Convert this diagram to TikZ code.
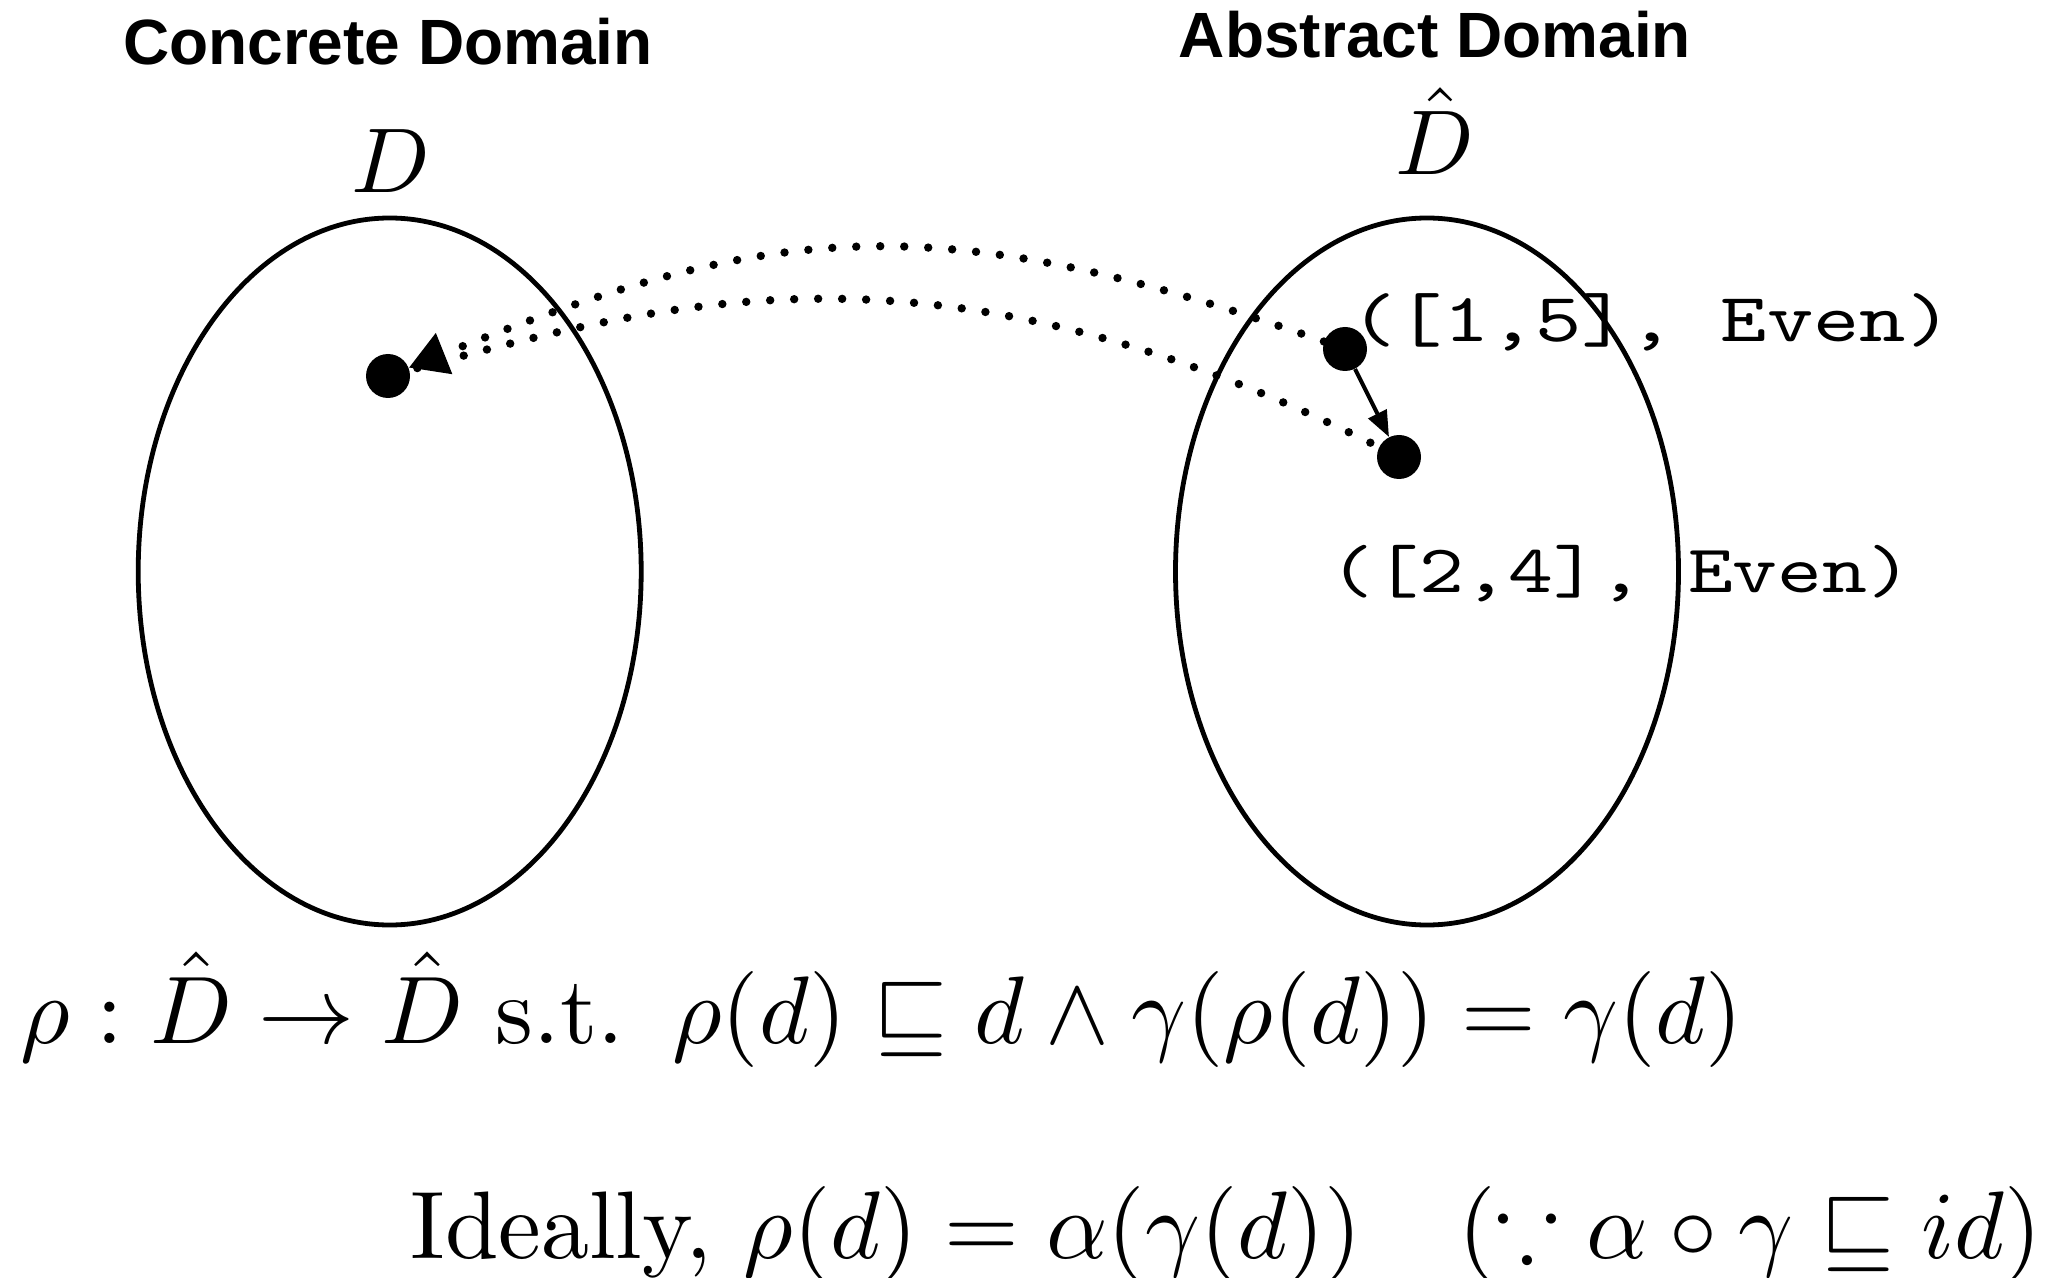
\documentclass[tikz,border=0pt]{standalone}
\usepackage{amsmath,amssymb}
\usepackage{graphicx}
\usepackage{fontspec}
\newfontfamily\headfont{Liberation Sans}
\usetikzlibrary{arrows.meta,shapes.geometric}
\begin{document}
\begin{tikzpicture}[x=0.5pt,y=-0.5pt,
  dom/.style={draw, ellipse, line width=2.4pt, minimum width=251.5pt, minimum height=353.5pt, inner sep=0pt},
  dotnode/.style={circle, fill=black, inner sep=0pt, minimum size=22pt},
  dotline/.style={line width=4.2pt, line cap=round, dash pattern=on 0pt off 12pt},
  bigtip/.style={-{Triangle[length=19pt,width=21pt]}},
  solidarrow/.style={line width=2pt, -{Triangle[length=13pt,width=10pt]}},
  head/.style={font=\headfont\bfseries\fontsize{32}{38}\selectfont, inner sep=0pt, anchor=base},
  mathlab/.style={inner sep=0pt, anchor=base},
  codelab/.style={inner sep=0pt, anchor=base west}
]
\useasboundingbox (0,0) rectangle (2061,1278);
\fill[white] (0,0) rectangle (2061,1278);

% headings
\node[head] (hc) at (388,65) {Concrete Domain};
\node[head] (ha) at (1435,58) {Abstract Domain};

% domain labels
\node[mathlab] (Dl) at (391,193) {\scalebox{4.6}{$D$}};
\node[mathlab] (Dh) at (1435,175) {\scalebox{4.6}{$\hat{D}$}};

% domains
\node[dom] (EC) at (389.7,571.5) {};
\node[dom] (EA) at (1427,571.5) {};

% points
\node[dotnode] (dL) at (388,376) {};
\node[dotnode] (dA) at (1345,349) {};
\node[dotnode] (dB) at (1399,457) {};

% labels of abstract points
\node[codelab] (la) at (1350,342) {\scalebox{4.41}[3.45]{\ttfamily ([1,5], Even)}};
\node[codelab] (lb) at (1329,592) {\scalebox{4.27}[3.4]{\ttfamily ([2,4], Even)}};

% connectors
\draw[dotline, bigtip] (dA) .. controls (925,200) and (763,226) .. (dL);
\draw[dotline, shorten <=4pt] (dL) .. controls (684,296) and (943,229) .. (dB);
\draw[solidarrow] (dA) -- (dB);

% formulas
\node[inner sep=0pt, anchor=base west] (eq1) at (20,1043)
  {\scalebox{4.8}{$\rho : \hat{D} \to \hat{D}\ \text{s.t.}\ \,\rho(d) \sqsubseteq d \wedge \gamma(\rho(d)) = \gamma(d)$}};
\node[inner sep=0pt, anchor=base west] (eq2) at (410,1258)
  {\scalebox{4.8}{Ideally, $\rho(d) = \alpha(\gamma(d))\quad(\because\alpha\circ\gamma\sqsubseteq id)$}};
\end{tikzpicture}
\end{document}
